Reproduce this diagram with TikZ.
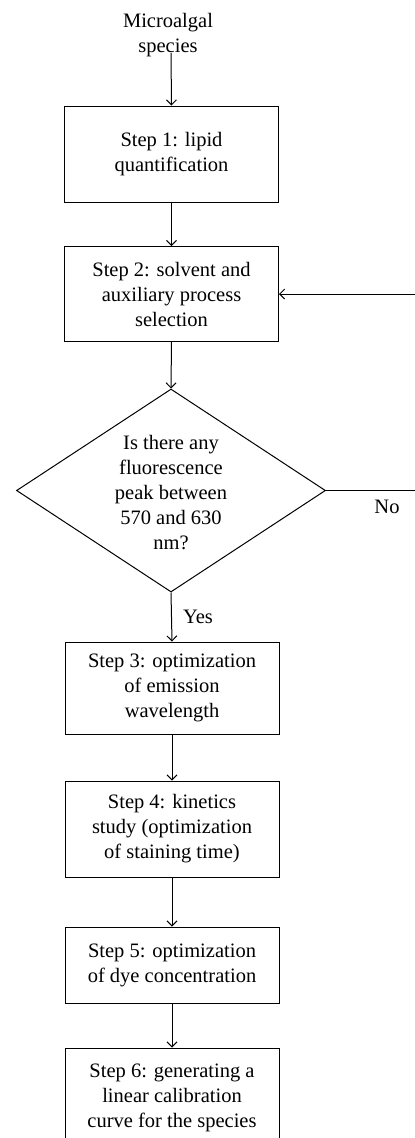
\documentclass[tikz,border=0pt]{standalone}
\usepackage{fontspec}
\setmainfont{Liberation Serif}
\usetikzlibrary{arrows.meta,shapes.geometric}
\begin{document}
\begin{tikzpicture}[x=1pt,y=-1pt,
  txt/.style={font=\fontsize{20.5}{25}\selectfont, align=center, inner sep=0pt},
  stepbox/.style={txt, draw, line width=1pt, minimum width=214pt},
  arr/.style={-{Straight Barb[length=5pt,width=10pt]}, line width=1pt},
  ln/.style={line width=1pt}]
\useasboundingbox (0,0) rectangle (415,1138);
\node[txt] (src) at (168,35) {Microalgal\\species};
\coordinate (srcEnd) at (171,53);
\node[stepbox, minimum height=96pt] (b1) at (171.5,154) {Step 1: lipid\\quantification};
\node[stepbox, minimum height=95pt] (b2) at (171.5,294) {Step 2: solvent and\\auxiliary process\\selection};
\node[draw, diamond, ln, minimum width=309pt, minimum height=203pt, inner sep=0pt] (d) at (171,490.5) {};
\node[txt] (dq) at (171,492.5) {Is there any\\fluorescence\\peak between\\570 and 630\\nm?};
\node[stepbox, minimum height=92pt] (b3) at (172,688) {Step 3: optimization\\of emission\\wavelength};
\node[stepbox, minimum height=96pt] (b4) at (172,829) {Step 4: kinetics\\study (optimization\\of staining time)};
\node[stepbox, minimum height=76pt] (b5) at (172,965) {Step 5: optimization\\of dye concentration};
\node[stepbox, minimum height=100pt] (b6) at (172,1098) {Step 6: generating a\\linear calibration\\curve for the species};
\node[txt] (no) at (387,507) {No};
\node[txt] (yes) at (198,617) {Yes};
\coordinate (loopB) at (419,294);
\draw[arr] (srcEnd) -- (b1.north);
\draw[arr] (b1.south) -- (b2.north);
\draw[arr] (b2.south) -- (d.north);
\draw[arr] (d.south) -- (b3.north);
\draw[arr] (b3.south) -- (b4.north);
\draw[arr] (b4.south) -- (b5.north);
\draw[arr] (b5.south) -- (b6.north);
\draw[arr] (d.east) -| (loopB) -- (b2.east);
\end{tikzpicture}
\end{document}
